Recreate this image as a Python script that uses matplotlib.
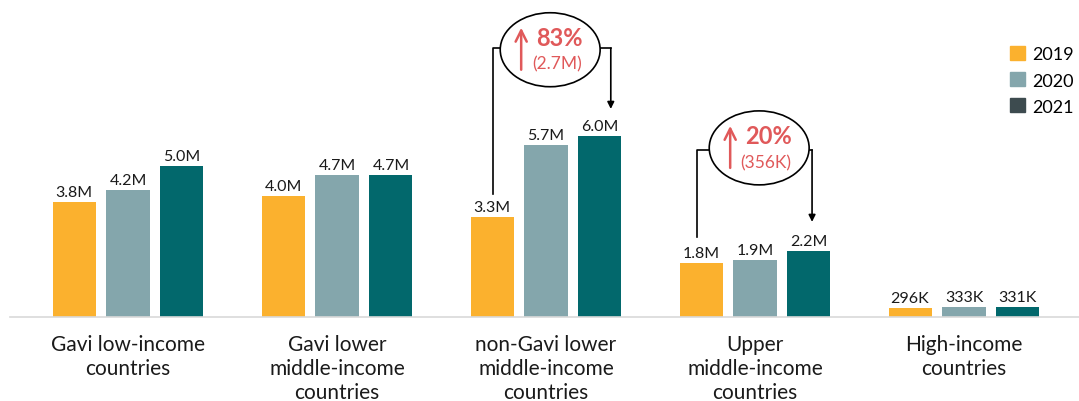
import matplotlib.pyplot as plt
from matplotlib.patches import Ellipse, Patch
import numpy as np

plt.rcParams['font.family'] = ['Lato', 'DejaVu Sans']

categories = ['Gavi low-income\ncountries', 'Gavi lower\nmiddle-income\ncountries',
              'non-Gavi lower\nmiddle-income\ncountries', 'Upper\nmiddle-income\ncountries',
              'High-income\ncountries']
years = ['2019', '2020', '2021']
v2019 = [3.8, 4.0, 3.3, 1.8, 0.296]
v2020 = [4.2, 4.7, 5.7, 1.9, 0.333]
v2021 = [5.0, 4.7, 6.0, 2.2, 0.331]
labels2019 = ['3.8M', '4.0M', '3.3M', '1.8M', '296K']
labels2020 = ['4.2M', '4.7M', '5.7M', '1.9M', '333K']
labels2021 = ['5.0M', '4.7M', '6.0M', '2.2M', '331K']

colors = ['#FBB12E', '#84A6AC', '#02686C']
legend_colors = ['#FBB12E', '#84A6AC', '#3D4B4F']
red = '#E0595A'

fig = plt.figure(figsize=(10.79, 4.02), dpi=100)
ax = fig.add_axes([10 / 1079, 84 / 402, 1069 / 1079, 318 / 402])

PX_X = 209.0   # pixels per group
PX_Y = 30.2    # pixels per million

x = np.arange(len(categories))
w = 0.206
off = 0.258
series = [(v2019, labels2019), (v2020, labels2020), (v2021, labels2021)]
for k, (vals, labs) in enumerate(series):
    xs = x + (k - 1) * off
    ax.bar(xs, vals, width=w, color=colors[k], zorder=2)
    for xi, v, lab in zip(xs, vals, labs):
        ax.annotate(lab, (xi, v), xytext=(0, 3), textcoords='offset pixels',
                    ha='center', va='bottom', fontsize=11.5, color='#1a1a1a')

ax.set_xlim(-118 / PX_X, 951 / PX_X)
ax.set_ylim(0, 318 / PX_Y)
for s in ['top', 'right', 'left']:
    ax.spines[s].set_visible(False)
ax.spines['bottom'].set_color('#d9d9d9')
ax.spines['bottom'].set_linewidth(1.2)
ax.set_yticks([])
ax.set_xticks(x)
ax.set_xticklabels(categories, fontsize=15, color='#1a1a1a', linespacing=1.25)
ax.tick_params(axis='x', length=0, pad=12)


def callout(gi, ey, xl, xr, top_y, left_bot, right_tip, pct, delta):
    cx = gi + 0.02
    ax.add_patch(Ellipse((cx, ey), 0.478, 2.45, facecolor='white',
                         edgecolor='black', lw=1.2, zorder=4, clip_on=False))
    ax.plot([gi + xl, gi + xl, cx - 0.239], [left_bot, top_y, top_y],
            color='black', lw=1.2, zorder=3, clip_on=False)
    ax.plot([cx + 0.239, gi + xr], [top_y, top_y], color='black', lw=1.2,
            zorder=3, clip_on=False)
    ax.annotate('', xy=(gi + xr, right_tip), xytext=(gi + xr, top_y),
                arrowprops=dict(arrowstyle='-|>', color='black', lw=1.2,
                                mutation_scale=10, shrinkA=0, shrinkB=0),
                zorder=3, annotation_clip=False)
    ax_x = cx - 29 / PX_X
    ax.annotate('', xy=(ax_x, ey + 22 / PX_Y), xytext=(ax_x, ey - 20 / PX_Y),
                arrowprops=dict(arrowstyle='->', color=red, lw=1.8,
                                mutation_scale=20, shrinkA=0, shrinkB=0),
                zorder=5, annotation_clip=False)
    ax.annotate(pct, (cx, ey), xytext=(9, 12), textcoords='offset pixels',
                ha='center', va='center', fontsize=17, fontweight='bold',
                color=red, zorder=6, annotation_clip=False)
    ax.annotate(delta, (cx, ey), xytext=(7, -14), textcoords='offset pixels',
                ha='center', va='center', fontsize=12.5, color=red, zorder=6,
                annotation_clip=False)


callout(2, 8.85, -0.254, 0.31, 8.9, 4.07, 6.89, '83%', '(2.7M)')
callout(3, 5.6, -0.278, 0.273, 5.53, 2.65, 3.15, '20%', '(356K)')

handles = [Patch(color=c) for c in legend_colors]
fig.legend(handles, years, loc='upper left', bbox_to_anchor=(1003 / 1079, 1 - 40 / 402),
           frameon=False, fontsize=13, handlelength=0.8, handleheight=0.8,
           handletextpad=0.4, labelspacing=0.55, borderaxespad=0)

fig.savefig('out.png', dpi=100)
